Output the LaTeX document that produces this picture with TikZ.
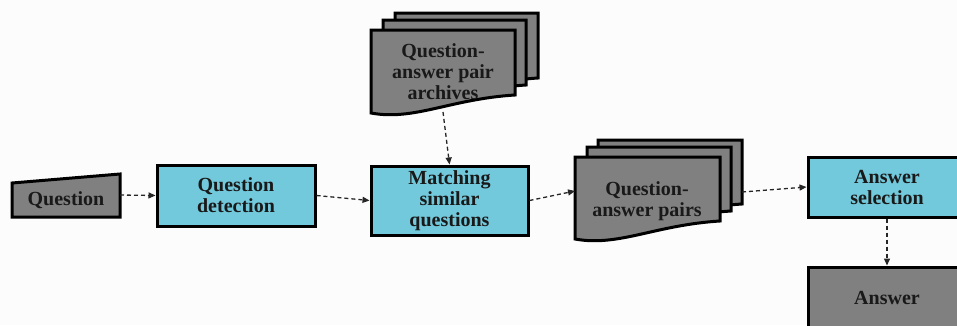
\documentclass[tikz,border=0pt]{standalone}
\usepackage{fontspec}
\setmainfont{Liberation Serif}
\usetikzlibrary{arrows.meta}

\definecolor{procfill}{RGB}{114,201,220}
\definecolor{datafill}{RGB}{128,128,128}

\tikzset{
  outline/.style={draw=black, line width=3pt, line join=miter},
  proc/.style={outline, fill=procfill, rectangle, inner sep=0pt,
               font=\fontsize{20}{21}\selectfont\bfseries, align=center, text=black!90},
  data/.style={outline, fill=datafill},
  lbl/.style={font=\fontsize{20}{21}\selectfont\bfseries, align=center, text=black!90, inner sep=0pt},
  flow/.style={draw=black!85, line width=1.3pt, dash pattern=on 4pt off 3pt,
               -{Triangle[length=7pt,width=6pt]}},
}

% wavy-bottomed document sheet: style, left x, top y, width, bottom-left y
\newcommand\docsheet[5]{%
  \path[#1] (#2,#3) -- ({#2+#4},#3) -- ({#2+#4},{#5-18})
    .. controls ({#2+0.55*#4},{#5-14}) and ({#2+0.3*#4},{#5+8}) .. (#2,#5) -- cycle;}

\begin{document}
\begin{tikzpicture}[x=1pt,y=-1pt]
  \useasboundingbox (0,0) rectangle (957,325);
  \fill[white!99!black] (0,0) rectangle (957,325);
  \clip (0,0) rectangle (957,325);

  % input: manual-input shape
  \path[data] (12,183) -- (120,174) -- (120,217) -- (12,217) -- cycle;
  \node[lbl] (q) at (66,200) {Question};
  \coordinate (qout) at (120,195);

  % process steps
  \node[proc, minimum width=158pt, minimum height=61pt] (det) at (236,195.5) {Question\\detection};
  \node[proc, minimum width=157pt, minimum height=69pt] (match) at (449.5,200.5) {Matching\\similar\\questions};
  \node[proc, minimum width=158pt, minimum height=60pt] (sel) at (887,187) {Answer\\selection};
  \node[proc, fill=datafill, minimum width=158pt, minimum height=62pt] (ans) at (887,298) {Answer};

  % archive of question-answer pairs (stack of documents)
  \docsheet{data}{395}{13}{143}{96}
  \docsheet{data}{383}{20}{143}{103}
  \docsheet{data}{371}{30}{144}{113}
  \node[lbl] (arch) at (443,72) {Question-\\answer pair\\archives};
  \coordinate (archout) at (443,112);

  % retrieved question-answer pairs (stack of documents)
  \docsheet{data}{598}{140}{144}{222}
  \docsheet{data}{587}{147}{144}{229}
  \docsheet{data}{575}{157}{145}{239}
  \node[lbl] (pairs) at (647,201) {Question-\\answer pairs};
  \coordinate (pairsin) at (575,191);
  \coordinate (pairsout) at (742,192);

  % connectors
  \draw[flow] (qout) -- (det.west);
  \draw[flow] (det.east) -- (match.west);
  \draw[flow] (archout) -- (match.north);
  \draw[flow] (match.east) -- (pairsin);
  \draw[flow] (pairsout) -- (sel.west);
  \draw[flow] (sel.south) -- (ans.north);
\end{tikzpicture}
\end{document}
